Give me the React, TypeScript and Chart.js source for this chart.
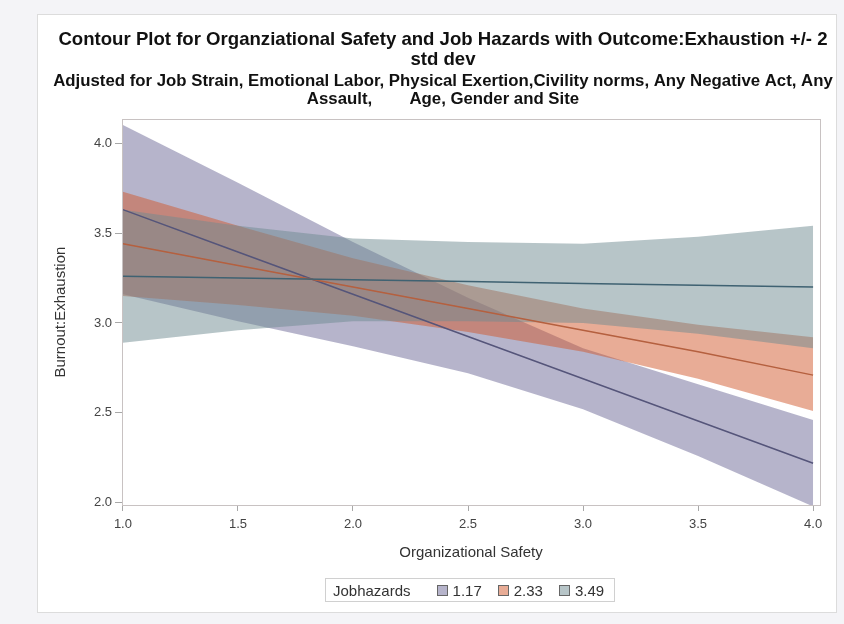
import React, { useEffect, useRef } from "react";
import { Chart, registerables } from "chart.js";

Chart.register(...registerables);

// Organizational Safety values where the fitted curves are evaluated
const xValues = [1, 1.5, 2, 2.5, 3, 3.5, 4];
const xTickValues = [1, 1.5, 2, 2.5, 3, 3.5, 4];
const xTickLabels = ["1.0", "1.5", "2.0", "2.5", "3.0", "3.5", "4.0"];
const yTickValues = [2, 2.5, 3, 3.5, 4];
const yTickLabels = ["2.0", "2.5", "3.0", "3.5", "4.0"];

// Jobhazards = 1.17
const fit117 = [3.63, 3.395, 3.16, 2.925, 2.69, 2.455, 2.22];
const upper117 = [4.1, 3.78, 3.45, 3.14, 2.86, 2.66, 2.46];
const lower117 = [3.16, 3.01, 2.87, 2.72, 2.52, 2.26, 1.98];
// Jobhazards = 2.33
const fit233 = [3.44, 3.32, 3.2, 3.08, 2.96, 2.84, 2.71];
const upper233 = [3.73, 3.54, 3.36, 3.21, 3.08, 2.99, 2.92];
const lower233 = [3.15, 3.1, 3.04, 2.95, 2.84, 2.69, 2.51];
// Jobhazards = 3.49
const fit349 = [3.26, 3.25, 3.24, 3.23, 3.22, 3.21, 3.2];
const upper349 = [3.63, 3.54, 3.47, 3.45, 3.44, 3.48, 3.54];
const lower349 = [2.89, 2.96, 3.01, 3.01, 3.0, 2.94, 2.86];

const groupLabels = ["1.17", "2.33", "3.49"];
const bandColors = ["rgba(100,95,145,0.47)", "rgba(209,89,45,0.5)", "rgba(111,139,145,0.5)"];
const lineColors = ["#55557a", "#b5603f", "#3f6272"];
const legendSwatch = ["#b6b4cb", "#e8ac96", "#b7c5c8"];

const FONT = "'Liberation Sans', Arial, Helvetica, sans-serif";

const pts = (ys: number[]) => xValues.map((x, i) => ({ x, y: ys[i] }));

const framePlugin = {
  id: "frame",
  afterDraw(chart: any) {
    const { ctx, chartArea } = chart;
    ctx.save();
    ctx.strokeStyle = "#c8c2c2";
    ctx.lineWidth = 1;
    ctx.strokeRect(
      Math.round(chartArea.left) + 0.5,
      Math.round(chartArea.top) + 0.5,
      Math.round(chartArea.right - chartArea.left),
      Math.round(chartArea.bottom - chartArea.top)
    );
    ctx.restore();
  },
};

export default function App() {
  const ref = useRef<HTMLCanvasElement | null>(null);

  useEffect(() => {
    if (!ref.current) return;
    const band = (ys: number[], idx: number, isUpper: boolean) => ({
      label: groupLabels[idx] + (isUpper ? " upper" : " lower"),
      data: pts(ys),
      borderWidth: 0,
      borderColor: "rgba(0,0,0,0)",
      backgroundColor: bandColors[idx],
      pointRadius: 0,
      fill: isUpper ? "+1" : false,
      tension: 0,
    });
    const line = (ys: number[], idx: number) => ({
      label: groupLabels[idx],
      data: pts(ys),
      borderWidth: 1.5,
      borderColor: lineColors[idx],
      pointRadius: 0,
      fill: false,
      tension: 0,
    });
    const chart = new Chart(ref.current, {
      type: "line",
      data: {
        datasets: [
          line(fit349, 2),
          line(fit233, 1),
          line(fit117, 0),
          band(upper349, 2, true),
          band(lower349, 2, false),
          band(upper233, 1, true),
          band(lower233, 1, false),
          band(upper117, 0, true),
          band(lower117, 0, false),
        ] as any,
      },
      options: {
        animation: false,
        responsive: false,
        maintainAspectRatio: false,
        layout: { padding: { left: 48, right: 6, top: 20, bottom: 0 } },
        plugins: {
          legend: { display: false },
          tooltip: { enabled: false },
          title: {
            display: true,
            text: [
              "Contour Plot for Organziational Safety and Job Hazards with Outcome:Exhaustion +/- 2",
              "std dev",
            ],
            color: "#111",
            font: { family: FONT, size: 18.6, weight: "bold", lineHeight: 1.1 },
            padding: { top: 9.3, bottom: 1.7 },
          },
          subtitle: {
            display: true,
            text: [
              "Adjusted for Job Strain, Emotional Labor, Physical Exertion,Civility norms, Any Negative Act, Any",
              "Assault,        Age, Gender and Site",
            ],
            color: "#111",
            font: { family: FONT, size: 16.8, weight: "bold", lineHeight: 1.1 },
            padding: { top: 0, bottom: 10.3 },
          },
        },
        scales: {
          x: {
            type: "linear",
            min: 0.996,
            max: 4.03,
            afterFit: (s: any) => {
              s.height = 119;
            },
            afterBuildTicks: (s: any) => {
              s.ticks = xTickValues.map((v) => ({ value: v }));
            },
            ticks: {
              color: "#444",
              font: { family: FONT, size: 13 },
              padding: 6,
              maxRotation: 0,
              callback: (v: any) => {
                const i = xTickValues.indexOf(Number(v));
                return i >= 0 ? xTickLabels[i] : "";
              },
            },
            grid: { display: true, drawOnChartArea: false, drawTicks: true, tickLength: 6, color: "#a8a8a8" },
            border: { display: false },
            title: {
              display: true,
              text: "Organizational Safety",
              color: "#333",
              font: { family: FONT, size: 15 },
              padding: { top: 0, bottom: 62 },
            },
          },
          y: {
            type: "linear",
            min: 1.988,
            max: 4.133,
            afterFit: (s: any) => {
              s.width = 74;
            },
            afterBuildTicks: (s: any) => {
              s.ticks = yTickValues.map((v) => ({ value: v }));
            },
            ticks: {
              color: "#444",
              font: { family: FONT, size: 13 },
              padding: 3,
              callback: (v: any) => {
                const i = yTickValues.indexOf(Number(v));
                return i >= 0 ? yTickLabels[i] : "";
              },
            },
            grid: { display: true, drawOnChartArea: false, drawTicks: true, tickLength: 7, color: "#a8a8a8" },
            border: { display: false },
            title: {
              display: true,
              text: "Burnout:Exhaustion",
              color: "#333",
              font: { family: FONT, size: 15 },
              padding: { top: 4, bottom: 0 },
            },
          },
          yRightSpacer: {
            type: "linear",
            position: "right",
            display: true,
            min: 0,
            max: 1,
            afterFit: (s: any) => {
              s.width = 18;
            },
            ticks: { display: false },
            grid: { display: false, drawTicks: false },
            border: { display: false },
            title: { display: false },
          },
        },
      } as any,
      plugins: [framePlugin],
    });
    return () => chart.destroy();
  }, []);

  return (
    <div
      style={{
        position: "absolute",
        left: 0,
        top: 0,
        width: 844,
        height: 624,
        background: "#f4f4f7",
        overflow: "hidden",
      }}
    >
      <div
        style={{
          position: "absolute",
          left: 37,
          top: 14,
          width: 800,
          height: 599,
          background: "#ffffff",
          border: "1px solid #dcdcdc",
          boxSizing: "border-box",
        }}
      />
      <canvas
        ref={ref}
        width={844}
        height={624}
        style={{ position: "absolute", left: 0, top: 0, width: 844, height: 624 }}
      />
      <div
        style={{
          position: "absolute",
          left: 325,
          top: 578,
          width: 290,
          height: 24,
          border: "1px solid #d0d0d0",
          boxSizing: "border-box",
          display: "flex",
          alignItems: "center",
          fontFamily: FONT,
          fontSize: 15,
          color: "#333",
          whiteSpace: "nowrap",
        }}
      >
        <span style={{ marginLeft: 7, marginRight: 26 }}>Jobhazards</span>
        {groupLabels.map((g, i) => (
          <span key={g} style={{ display: "flex", alignItems: "center", marginRight: i < 2 ? 16 : 0 }}>
            <span
              style={{
                display: "inline-block",
                width: 9,
                height: 9,
                background: legendSwatch[i],
                border: "1px solid #666",
                marginRight: 5,
              }}
            />
            <span>{g}</span>
          </span>
        ))}
      </div>
    </div>
  );
}
